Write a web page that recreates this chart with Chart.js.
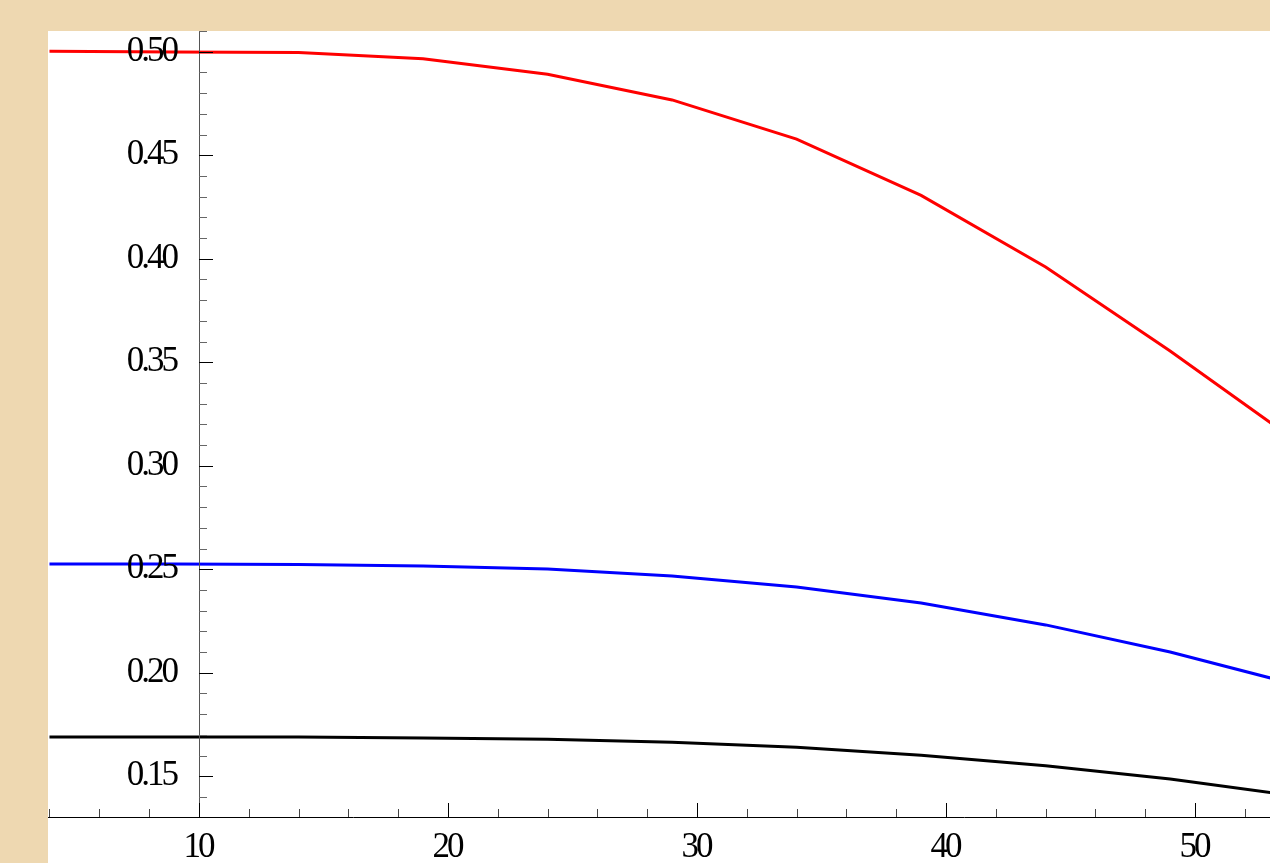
<!DOCTYPE html>
<html>
<head>
<meta charset="utf-8">
<script src="https://cdn.jsdelivr.net/npm/chart.js@4"></script>
<style>
  html, body { margin: 0; padding: 0; width: 1270px; height: 863px; overflow: hidden; background: #EED8B1; }
  #plot { position: absolute; left: 48px; top: 31px; width: 1222px; height: 832px; background: #ffffff; }
  canvas { display: block; }
</style>
</head>
<body>
<div id="plot"><canvas id="c" width="1222" height="832"></canvas></div>
<script>
// ---- data ----
const xValues = [4, 9, 14, 19, 24, 29, 34, 39, 44, 49, 54];
const redSeries = [0.5002, 0.4999, 0.4996, 0.4966, 0.4891, 0.4767, 0.4578, 0.4306, 0.3960, 0.3554, 0.3124];
const blueSeries = [0.2525, 0.2525, 0.2523, 0.2515, 0.2501, 0.2467, 0.2414, 0.2337, 0.2231, 0.2100, 0.1944];
const blackSeries = [0.1690, 0.1690, 0.1689, 0.1685, 0.1679, 0.1664, 0.1640, 0.1601, 0.1551, 0.1487, 0.1405];
const xTickLabels = [10, 20, 30, 40, 50];
const yTickLabels = [0.15, 0.20, 0.25, 0.30, 0.35, 0.40, 0.45, 0.50];

function pts(ys) { return xValues.map((x, i) => ({ x: x, y: ys[i] })); }

const axesPlugin = {
  id: 'mmaAxes',
  afterDatasetsDraw(chart) {
    const ctx = chart.ctx;
    const xs = chart.scales.x, ys = chart.scales.y;
    const area = chart.chartArea;
    const axisX = xs.getPixelForValue(10);
    const axisY = area.bottom;
    ctx.save();
    // y axis line
    ctx.strokeStyle = '#555555';
    ctx.lineWidth = 1;
    ctx.beginPath();
    ctx.moveTo(Math.round(axisX) + 0.5, 0);
    ctx.lineTo(Math.round(axisX) + 0.5, axisY);
    ctx.stroke();
    // x axis line
    ctx.strokeStyle = '#000000';
    ctx.beginPath();
    ctx.moveTo(0, axisY + 0.5);
    ctx.lineTo(chart.width, axisY + 0.5);
    ctx.stroke();
    // y ticks
    for (let k = 14; k <= 51; k++) {
      const v = k / 100;
      const py = ys.getPixelForValue(v);
      const major = (k % 5 === 0);
      ctx.strokeStyle = major ? '#000000' : '#666666';
      ctx.beginPath();
      ctx.moveTo(Math.round(axisX), Math.round(py) + 0.5);
      ctx.lineTo(Math.round(axisX) + (major ? 14 : 8), Math.round(py) + 0.5);
      ctx.stroke();
    }
    // x ticks
    for (let v = 4; v <= 52; v += 2) {
      const px = xs.getPixelForValue(v);
      const major = (v % 10 === 0);
      ctx.strokeStyle = major ? '#000000' : '#444444';
      ctx.beginPath();
      ctx.moveTo(Math.round(px) + 0.5, axisY);
      ctx.lineTo(Math.round(px) + 0.5, axisY - (major ? 14 : 8));
      ctx.stroke();
    }
    // labels
    ctx.fillStyle = '#000000';
    ctx.font = '35px "Liberation Serif", "Times New Roman", serif';
    try { ctx.letterSpacing = '-3px'; } catch (e) {}
    ctx.textAlign = 'right';
    ctx.textBaseline = 'middle';
    yTickLabels.forEach(v => {
      const py = ys.getPixelForValue(v);
      ctx.fillText(v.toFixed(2), axisX - 23, py);
    });
    ctx.textAlign = 'center';
    ctx.textBaseline = 'alphabetic';
    xTickLabels.forEach(v => {
      const px = xs.getPixelForValue(v);
      ctx.fillText(String(v), px - 1, axisY + 40);
    });
    ctx.restore();
  }
};

new Chart(document.getElementById('c'), {
  type: 'line',
  data: {
    datasets: [
      { label: 'red', data: pts(redSeries), borderColor: '#FF0000', borderWidth: 3, pointRadius: 0, tension: 0, fill: false },
      { label: 'blue', data: pts(blueSeries), borderColor: '#0000FF', borderWidth: 3, pointRadius: 0, tension: 0, fill: false },
      { label: 'black', data: pts(blackSeries), borderColor: '#000000', borderWidth: 3, pointRadius: 0, tension: 0, fill: false }
    ]
  },
  options: {
    responsive: false,
    animation: false,
    devicePixelRatio: 1,
    layout: { padding: { left: 0, right: 0, top: 0, bottom: 46 } },
    plugins: { legend: { display: false }, tooltip: { enabled: false } },
    scales: {
      x: { type: 'linear', min: 3.94, max: 53.01, display: false },
      y: { type: 'linear', min: 0.1303, max: 0.51, display: false }
    }
  },
  plugins: [axesPlugin]
});
</script>
</body>
</html>
